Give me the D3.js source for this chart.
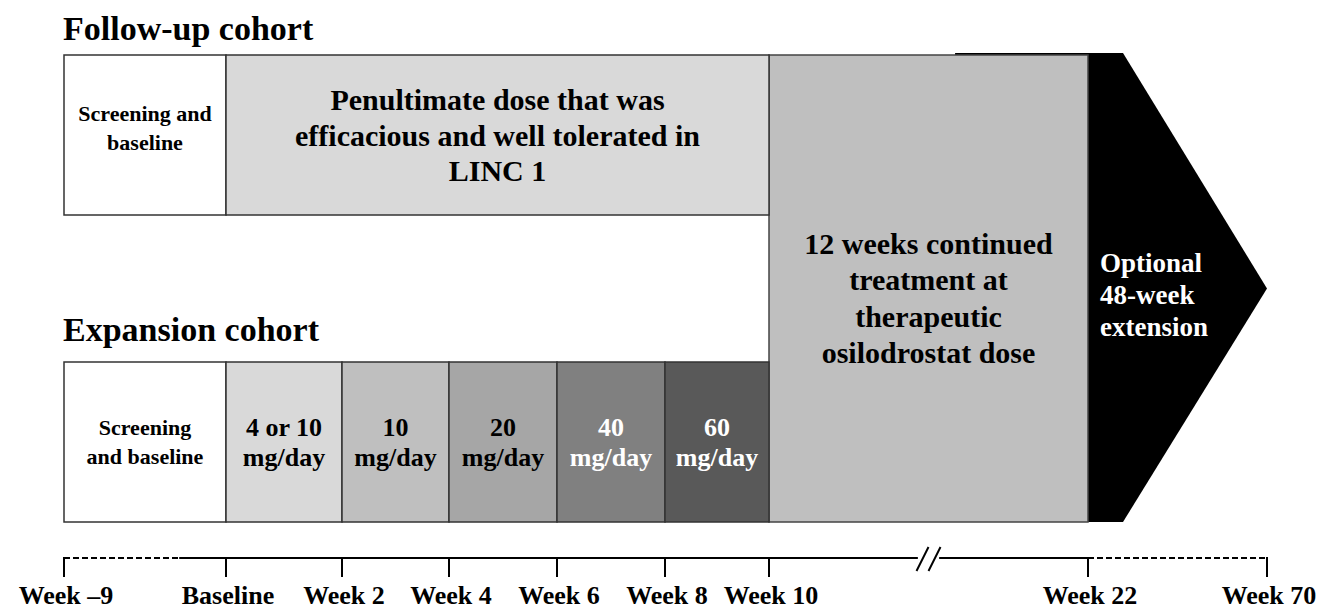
<!DOCTYPE html>
<html>
<head>
<meta charset="utf-8">
<title>LINC 2 study design</title>
<script src="https://cdn.jsdelivr.net/npm/d3@7"></script>
<style>
  body { margin: 0; background: #fff; }
  svg text { font-family: "Liberation Serif", "Times New Roman", serif; font-weight: bold; }
</style>
</head>
<body>
<svg id="chart" width="1317" height="611"></svg>
<script>
// timeline ticks (weeks) and their labels
var tickWeeks = [-9, 0, 2, 4, 6, 8, 10, 22, 70];
var tickLabels = ["Week \u20139", "Baseline", "Week 2", "Week 4", "Week 6", "Week 8", "Week 10", "Week 22", "Week 70"];

// axis segments in weeks: [from, to, dashed]
var axisSegments = [[-9, -2.6, true], [-2.6, 15.6, false], [16.4, 22, false], [22, 70, true]];
var axisBreak = 16;

// follow-up cohort phases
var followUp = [
  {start: -9, end: 0, lines: ["Screening and", "baseline"]},
  {start: 0, end: 10, lines: ["Penultimate dose that was", "efficacious and well tolerated in", "LINC 1"]}
];

// expansion cohort phases
var expansion = [
  {start: -9, end: 0, lines: ["Screening", "and baseline"]},
  {start: 0, end: 2, lines: ["4 or 10", "mg/day"]},
  {start: 2, end: 4, lines: ["10", "mg/day"]},
  {start: 4, end: 6, lines: ["20", "mg/day"]},
  {start: 6, end: 8, lines: ["40", "mg/day"]},
  {start: 8, end: 10, lines: ["60", "mg/day"]}
];

var continued = {start: 10, end: 22, lines: ["12 weeks continued", "treatment at", "therapeutic", "osilodrostat dose"]};
var extension = {start: 22, end: 70, lines: ["Optional", "48-week", "extension"]};

var svg = d3.select("#chart");

// piecewise scale, the plot gives each tick its own slot
var x = d3.scaleLinear()
    .domain(tickWeeks)
    .range([64, 226, 342, 449, 557, 665, 769, 1088, 1267]);

var y = d3.scaleOrdinal()
    .domain(["followTop", "followBottom", "expTop", "expBottom", "axis"])
    .range([55, 215, 362, 522, 558]);

// shades get darker as the dose goes up
var shade = d3.scaleOrdinal()
    .domain([-9, 0, 2, 4, 6, 8, 10])
    .range(["#ffffff", "#d9d9d9", "#bfbfbf", "#a6a6a6", "#808080", "#595959", "#bfbfbf"]);

function textColor(d) {
  return d3.hsl(shade(d.start)).l < 0.52 ? "#fff" : "#000";
}

// black extension arrow (drawn first, grey block sits over it)
var arrowTop = y("followTop") - 2, arrowBottom = y("expBottom");
var shoulder = x(22) + 35;
svg.append("path")
    .attr("d", d3.line()([
      [x(17), arrowTop], [shoulder, arrowTop], [x(70), (arrowTop + arrowBottom) / 2 + 1],
      [shoulder, arrowBottom], [x(17), arrowBottom]
    ]) + "Z")
    .attr("fill", "#000");

svg.append("rect")
    .attr("x", x(continued.start)).attr("y", y("followTop"))
    .attr("width", x(continued.end) - x(continued.start))
    .attr("height", y("expBottom") - y("followTop"))
    .attr("fill", shade(continued.start)).attr("stroke", "#444").attr("stroke-width", 1.5);

function drawRow(data, top, bottom, firstSize, otherSize, firstShift) {
  var g = svg.append("g").selectAll("g").data(data).enter().append("g");
  g.append("rect")
      .attr("x", function(d) { return x(d.start); })
      .attr("y", top)
      .attr("width", function(d) { return x(d.end) - x(d.start); })
      .attr("height", bottom - top)
      .attr("fill", function(d) { return shade(d.start); })
      .attr("stroke", "#333").attr("stroke-width", 1.5);
  g.each(function(d, i) {
    var size = i === 0 ? firstSize : otherSize;
    var lh = size * (i === 0 ? 1.33 : 1.18);
    var cy = (top + bottom) / 2 - (d.lines.length - 1) * lh / 2 + (i === 0 ? firstShift : 0);
    d3.select(this).selectAll("text").data(d.lines).enter().append("text")
        .attr("x", (x(d.start) + x(d.end)) / 2)
        .attr("y", function(l, j) { return cy + j * lh; })
        .attr("dy", "0.35em")
        .attr("text-anchor", "middle")
        .attr("font-size", size)
        .attr("fill", textColor(d))
        .text(function(l) { return l; });
  });
}

drawRow(followUp, y("followTop"), y("followBottom"), 22, 30, -7);
drawRow(expansion, y("expTop"), y("expBottom"), 22, 26, 0);

svg.selectAll(".cont").data(continued.lines).enter().append("text")
    .attr("x", (x(continued.start) + x(continued.end)) / 2)
    .attr("y", function(l, i) { return 243 + i * 36.5; })
    .attr("dy", "0.35em")
    .attr("text-anchor", "middle")
    .attr("font-size", 30)
    .text(function(l) { return l; });

svg.selectAll(".ext").data(extension.lines).enter().append("text")
    .attr("x", x(extension.start) + 12)
    .attr("y", function(l, i) { return 263 + i * 32; })
    .attr("dy", "0.35em")
    .attr("font-size", 27)
    .attr("fill", "#fff")
    .text(function(l) { return l; });

// cohort titles
svg.append("text").attr("x", 63).attr("y", 40).attr("font-size", 34).text("Follow-up cohort");
svg.append("text").attr("x", 63).attr("y", 341).attr("font-size", 34).text("Expansion cohort");

// timeline
var ay = y("axis");
svg.selectAll(".seg").data(axisSegments).enter().append("line")
    .attr("x1", function(d) { return x(d[0]); })
    .attr("x2", function(d) { return x(d[1]); })
    .attr("y1", ay).attr("y2", ay)
    .attr("stroke", "#000").attr("stroke-width", 2)
    .attr("stroke-dasharray", function(d) { return d[2] ? "6,3" : null; });

svg.selectAll(".tick").data(tickWeeks).enter().append("line")
    .attr("x1", function(d) { return x(d); })
    .attr("x2", function(d) { return x(d); })
    .attr("y1", ay - 1).attr("y2", ay + 19)
    .attr("stroke", "#000").attr("stroke-width", 2);

svg.selectAll(".brk").data([-6, 6]).enter().append("line")
    .attr("x1", function(d) { return x(axisBreak) + d - 6; })
    .attr("x2", function(d) { return x(axisBreak) + d + 6; })
    .attr("y1", ay + 13).attr("y2", ay - 11)
    .attr("stroke", "#000").attr("stroke-width", 2);

svg.selectAll(".lbl").data(tickWeeks).enter().append("text")
    .attr("x", function(d) { return x(d) + 2; })
    .attr("y", 604)
    .attr("text-anchor", "middle")
    .attr("font-size", 26)
    .text(function(d, i) { return tickLabels[i]; });
</script>
</body>
</html>
